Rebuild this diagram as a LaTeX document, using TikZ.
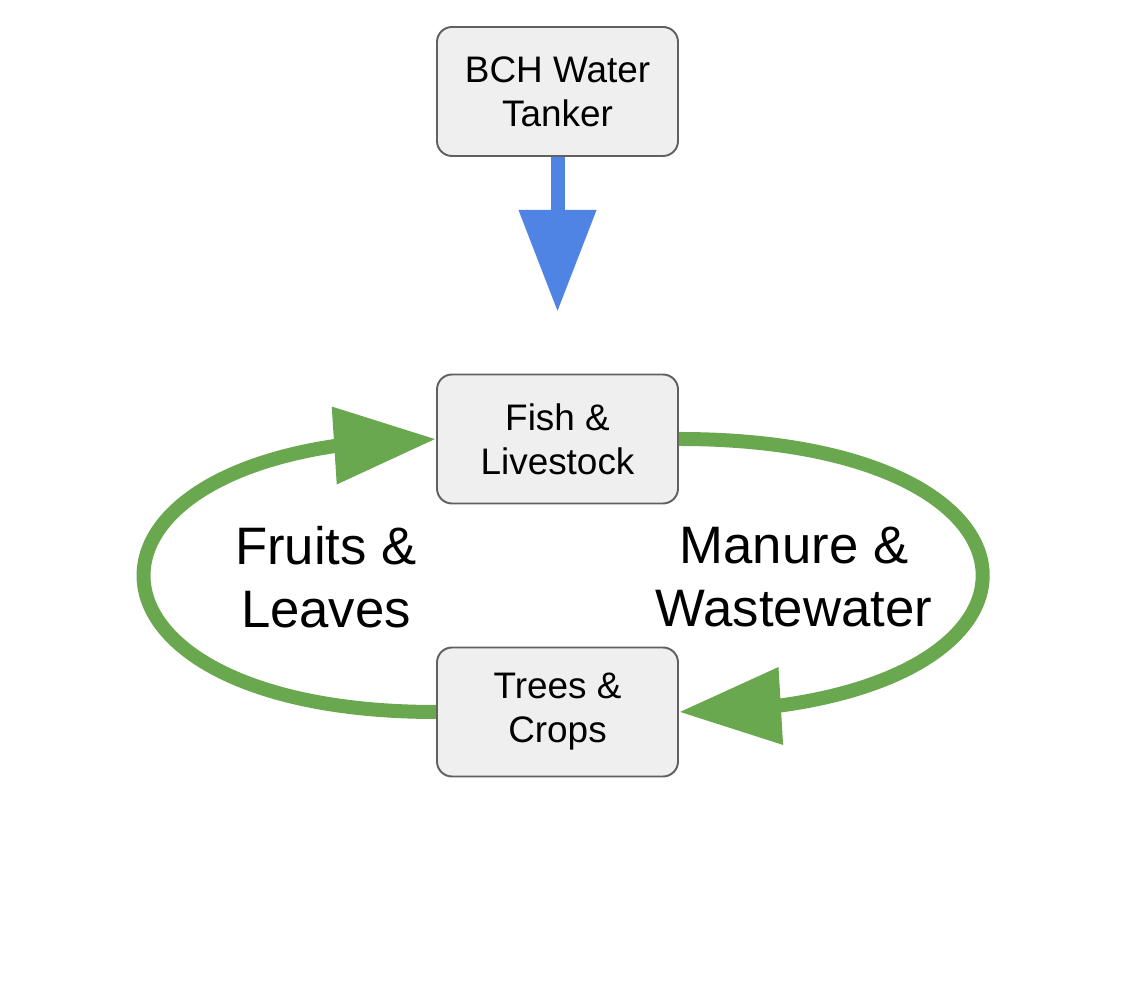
\documentclass[tikz,border=0pt]{standalone}
\usepackage{fontspec}
\setmainfont{Liberation Sans}
\usetikzlibrary{arrows.meta,bending}
\definecolor{boxgray}{HTML}{EFEFEF}
\definecolor{edgegray}{HTML}{606060}
\definecolor{waterblue}{HTML}{4F84E4}
\definecolor{cyclegreen}{HTML}{6AA84F}
\begin{document}
\begin{tikzpicture}[
	stagebox/.style={draw=edgegray, line width=1.1pt, fill=boxgray, rounded corners=0.3cm, minimum width=4.82cm, minimum height=2.58cm, align=center, font=\fontsize{21}{25}\selectfont},
	flowlabel/.style={align=center, font=\fontsize{30}{36}\selectfont},
	water/.style={draw=waterblue, line width=0.28cm, -{Triangle[length=2.04cm, width=1.48cm]}},
	cycle/.style={draw=cyclegreen, line width=0.28cm, -{Triangle[length=2.04cm, width=1.48cm, flex]}}]
	\useasboundingbox (0,0) rectangle (22.5,19.84);
	\node[stagebox] (tanker) at (11.15,18.01) {BCH Water\\Tanker};
	\node[stagebox] (fish) at (11.15,11.06) {Fish \&\\Livestock};
	\node[stagebox] (trees) at (11.15,5.6) {Trees \&\\Crops};
	\coordinate (tankerend) at (11.15,13.6);
	\node[flowlabel] (fruits) at (6.52,8.3) {Fruits \&\\Leaves};
	\node[flowlabel] (manure) at (15.88,8.3) {Manure \&\\Wastewater};
	\draw[water] (tanker.south) -- (tankerend);
	\draw[cycle] (fish.east) .. controls +(8.1,0) and +(8.1,0) .. (trees.east);
	\draw[cycle] (trees.west) .. controls +(-7.8,0) and +(-7.8,0) .. (fish.west);
\end{tikzpicture}
\end{document}
